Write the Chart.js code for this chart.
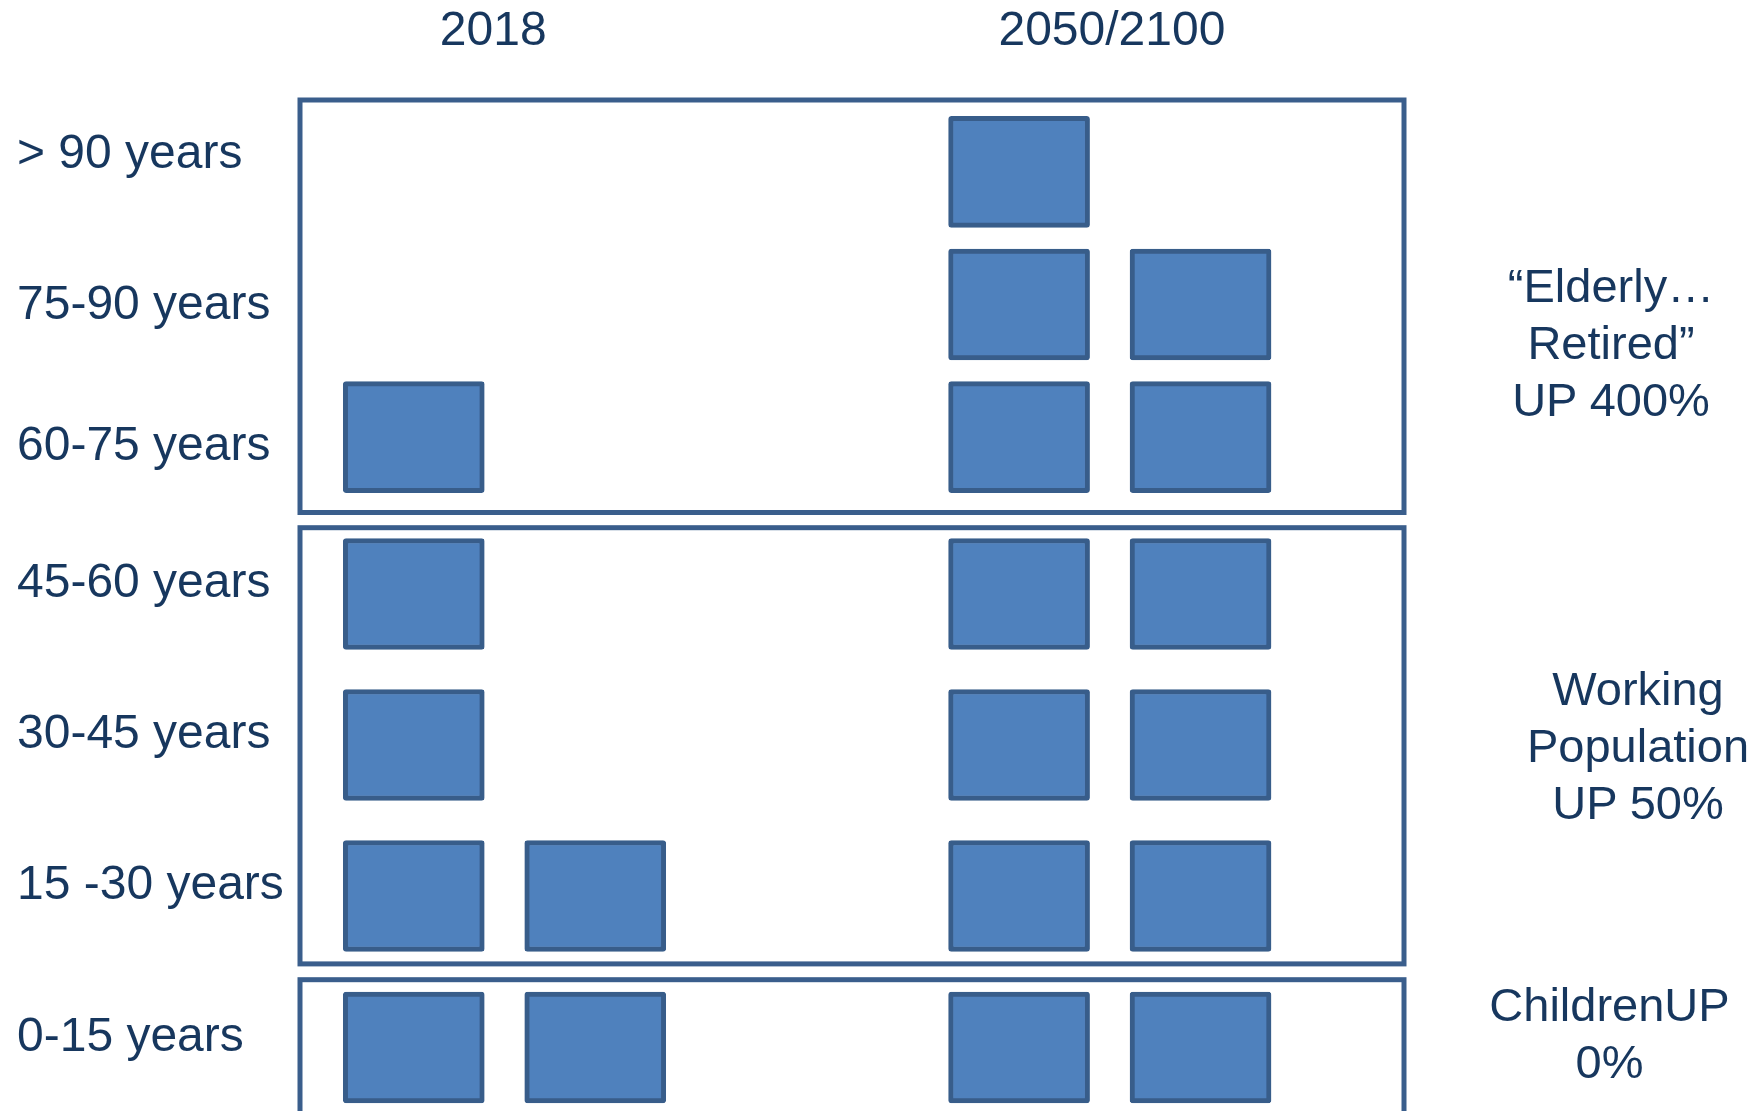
<!DOCTYPE html>
<html>
<head>
<meta charset="utf-8">
<script src="https://cdn.jsdelivr.net/npm/chart.js@4.4.1/dist/chart.umd.min.js"></script>
<style>
  html, body { margin: 0; padding: 0; background: #ffffff; width: 1761px; height: 1111px; overflow: hidden; }
  .band { position: absolute; left: 0; width: 1761px; }
  .note { position: absolute; width: 320px; text-align: center; white-space: pre;
          font-family: "Liberation Sans", Arial, sans-serif; font-size: 47px; line-height: 57px; color: #17375E; }
</style>
</head>
<body>
<script>
// ---------- data ----------
const ageGroups = ['> 90 years', '75-90 years', '60-75 years', '45-60 years', '30-45 years', '15 -30 years', '0-15 years'];
const periods = ['2018', '2050/2100'];
const boxes2018 = [0, 0, 1, 1, 1, 2, 2];
const boxes2050 = [1, 2, 2, 2, 2, 2, 2];
const bandNames = ['\u201CElderly\u2026\nRetired\u201D\nUP 400%', 'Working\nPopulation\nUP 50%', 'ChildrenUP\n0%'];
const bandRowCounts = [3, 3, 1];

// ---------- layout & style ----------
const FONT = { family: '"Liberation Sans", Arial, sans-serif', size: 48 };
const TEXT = '#17375E';
const BOX_FILL = '#4F81BD';
const BOX_LINE = '#385D8A';
const FRAME_LINE = '#3A5E8C';
const X_MAX = 7.83;
const GROUP_START = [0.307, 4.6];
const SLOT_GAP = 0.287;
const PERIOD_LABEL_SHIFT = [-0.08, 0.015];
const bandLayout = [
  { top: 0,   height: 520, padTop: 0,   padBottom: 16.5, frameTop: -5.5, frameBottom: 9,    labelNudge: [-17, 1, 10], xAxis: true },
  { top: 510, height: 470, padTop: 8.5, padBottom: 8.5,  frameTop: 9.2,  frameBottom: -7.6, labelNudge: [-10, -10, -10] },
  { top: 970, height: 141, padTop: 14,  padBottom: 0,    frameTop: -4.3, frameBottom: 30,   labelNudge: [-10] }
];
const noteLayout = [{ cx: 1611, top: 257 }, { cx: 1638, top: 660 }, { cx: 1609.5, top: 976 }];

const counts = [boxes2018, boxes2050];
const periodCenters = GROUP_START.map((s, p) => s + (2 + SLOT_GAP) / 2 + PERIOD_LABEL_SHIFT[p]);

const framePlugin = {
  id: 'bandFrame',
  beforeDatasetsDraw(chart, args, opts) {
    const a = chart.chartArea, ctx = chart.ctx;
    ctx.save();
    ctx.strokeStyle = opts.color;
    ctx.lineWidth = opts.width;
    const t = a.top + opts.top, b = a.bottom + opts.bottom;
    ctx.strokeRect(a.left, t, a.right - a.left, b - t);
    ctx.restore();
  }
};

// shifts each age label vertically by its own small amount
const nudgePlugin = {
  id: 'labelNudge',
  beforeDraw(chart, args, opts) {
    const items = chart.scales.y.getLabelItems();
    if (items._nudged) return;
    items.forEach((it, i) => { it.options.translation[1] += (opts.dy[i] || 0); });
    items._nudged = true;
  }
};

let rowStart = 0;
bandLayout.forEach((L, bi) => {
  const n = bandRowCounts[bi];
  const wrap = document.createElement('div');
  wrap.className = 'band';
  wrap.style.top = L.top + 'px';
  wrap.style.height = L.height + 'px';
  const cv = document.createElement('canvas');
  wrap.appendChild(cv);
  document.body.appendChild(wrap);

  const datasets = [];
  counts.forEach((cnt, p) => {
    const maxSlots = Math.max(...cnt);
    for (let k = 0; k < maxSlots; k++) {
      const s = GROUP_START[p] + k * (1 + SLOT_GAP);
      datasets.push({
        label: periods[p] + ' #' + (k + 1),
        data: cnt.slice(rowStart, rowStart + n).map(c => (c > k ? [s, s + 1] : null)),
        backgroundColor: BOX_FILL,
        borderColor: BOX_LINE,
        borderWidth: 5,
        borderSkipped: false,
        borderRadius: 3,
        barThickness: 111,
        grouped: false
      });
    }
  });

  const xScale = {
    type: 'linear', position: 'top', min: 0, max: X_MAX, display: !!L.xAxis,
    grid: { display: false, drawTicks: false }, border: { display: false },
    ticks: { autoSkip: false, maxRotation: 0, padding: 44.5, color: TEXT, font: FONT,
             callback: (v, i) => periods[i] }
  };
  if (L.xAxis) {
    xScale.afterBuildTicks = s => { s.ticks = periodCenters.map(v => ({ value: v })); };
    xScale.afterFit = s => { s.height = 105.5; s.paddingLeft = 0; s.paddingRight = 0; };
  }

  new Chart(cv, {
    type: 'bar',
    data: { labels: ageGroups.slice(rowStart, rowStart + n), datasets },
    options: {
      indexAxis: 'y',
      responsive: true,
      maintainAspectRatio: false,
      animation: false,
      layout: { padding: { left: 17, right: 357, top: L.padTop, bottom: L.padBottom } },
      plugins: {
        legend: { display: false },
        tooltip: { enabled: false },
        bandFrame: { color: FRAME_LINE, width: 5, top: L.frameTop, bottom: L.frameBottom },
        labelNudge: { dy: L.labelNudge }
      },
      scales: {
        x: xScale,
        y: {
          type: 'category',
          grid: { display: false, drawTicks: false }, border: { display: false },
          afterFit: s => { s.width = 283; s.paddingTop = 0; s.paddingBottom = 0; },
          ticks: { crossAlign: 'far', padding: 0, autoSkip: false, color: TEXT, font: FONT, labelOffset: 0 }
        }
      }
    },
    plugins: [framePlugin, nudgePlugin]
  });

  const note = document.createElement('div');
  note.className = 'note';
  note.textContent = bandNames[bi];
  note.style.left = (noteLayout[bi].cx - 160) + 'px';
  note.style.top = noteLayout[bi].top + 'px';
  document.body.appendChild(note);

  rowStart += n;
});
</script>
</body>
</html>
